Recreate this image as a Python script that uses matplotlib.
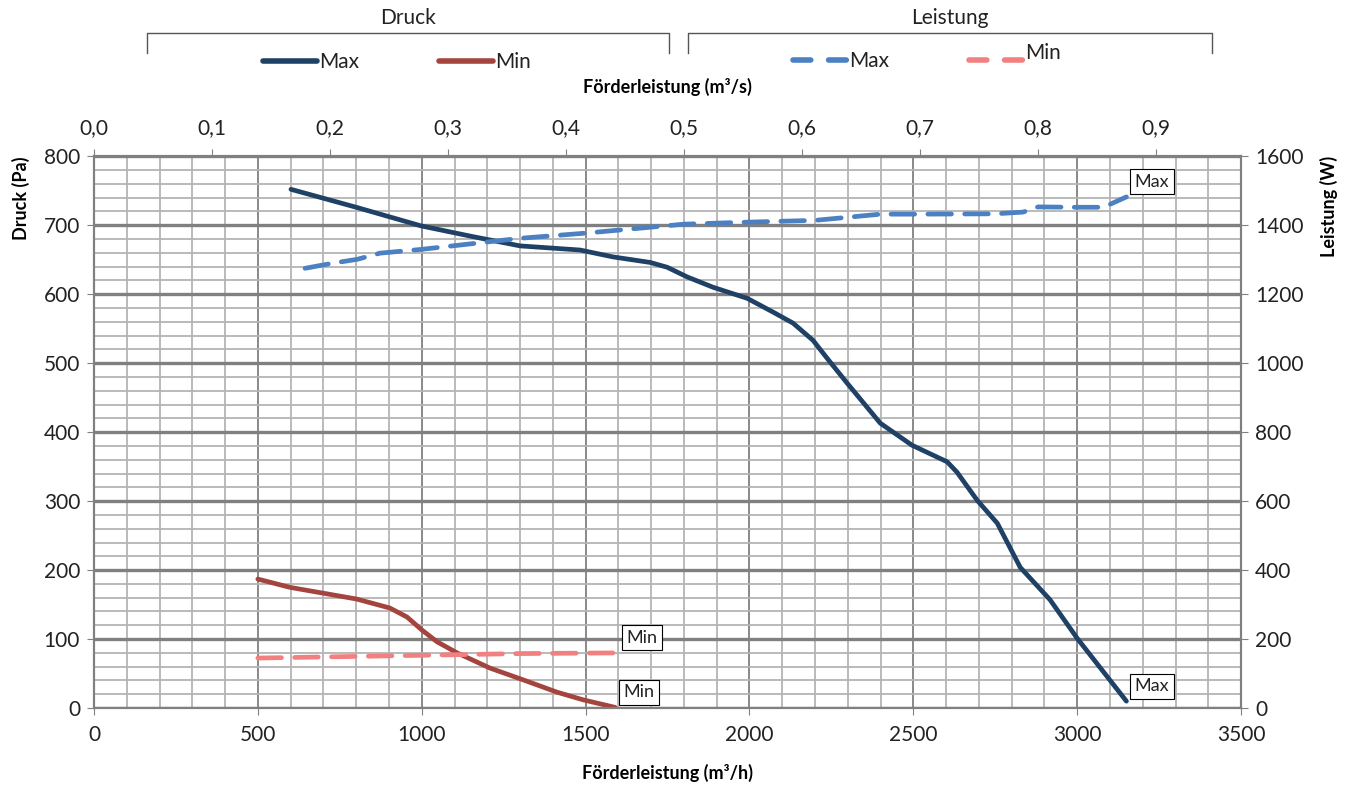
import matplotlib
matplotlib.use("Agg")
import matplotlib.pyplot as plt
from matplotlib.lines import Line2D
from matplotlib.ticker import MultipleLocator, FuncFormatter

plt.rcParams['font.family'] = ['Lato', 'DejaVu Sans']

# Druck Max (m3/h, Pa)
druck_max_x = [601, 800, 998, 1150, 1300, 1483, 1584, 1697, 1749, 1810, 1889, 1993,
               2072, 2133, 2194, 2237, 2298, 2399, 2496, 2603, 2633, 2695, 2756, 2826,
               2917, 3000, 3150]
druck_max_y = [752, 726, 699, 684, 670, 664, 654, 646, 639, 625, 610, 594,
               574, 558, 533, 507, 471, 413, 381, 357, 342, 301, 268, 204,
               157, 101, 10]
# Druck Min
druck_min_x = [500, 598, 802, 903, 955, 1001, 1047, 1108, 1208, 1309, 1413, 1492, 1590]
druck_min_y = [187, 175, 158, 145, 132, 113, 96, 80, 58, 41, 23, 12, 1]
# Leistung Max (m3/h, W)
leist_max_x = [644, 729, 803, 873, 1000, 1300, 1500, 1800, 2000, 2200, 2400, 2500,
               2750, 2835, 2880, 2994, 3080, 3150]
leist_max_y = [1275, 1290, 1301, 1319, 1330, 1362, 1377, 1403, 1409, 1414, 1432, 1432,
               1433, 1438, 1453, 1452, 1452, 1482]
# Leistung Min
leist_min_x = [500, 1000, 1300, 1600]
leist_min_y = [145, 153, 158, 160]

c_max = '#1F4166'
c_min = '#A4443F'
c_lmax = '#4B80C3'
c_lmin = '#F28080'

fig = plt.figure(figsize=(13.52, 7.85), dpi=100)
ax = fig.add_axes([0.0695, 0.098, 0.8485, 0.703])
ax2 = ax.twinx()

ax.set_xlim(0, 3500)
ax.set_ylim(0, 800)
ax2.set_ylim(0, 1600)

ax.xaxis.set_major_locator(MultipleLocator(500))
ax.xaxis.set_minor_locator(MultipleLocator(100))
ax.yaxis.set_major_locator(MultipleLocator(100))
ax.yaxis.set_minor_locator(MultipleLocator(20))
ax2.yaxis.set_major_locator(MultipleLocator(200))

ax.grid(which='minor', axis='both', color='#B4B4B4', lw=1.3)
ax.grid(which='major', axis='x', color='#808080', lw=1.3)
ax.grid(which='major', axis='y', color='#808080', lw=2.4)
ax.set_axisbelow(True)
ax.tick_params(which='minor', length=0)
ax.tick_params(axis='x', which='major', length=5, color='#808080', labelsize=15,
               labelcolor='#222222', pad=7)
ax.tick_params(axis='y', which='major', length=5, color='#808080', labelsize=15,
               labelcolor='#222222', pad=5)
ax2.tick_params(which='major', length=5, color='#808080', labelsize=15, labelcolor='#222222', pad=5)
for a in (ax, ax2):
    for s in a.spines.values():
        s.set_color('#808080')
        s.set_linewidth(1.5)

lkw = dict(lw=3.4, solid_capstyle='round', solid_joinstyle='round', zorder=3)
ax.plot(druck_max_x, druck_max_y, color=c_max, **lkw)
ax.plot(druck_min_x, druck_min_y, color=c_min, **lkw)
dkw = dict(lw=3.4, dashes=(5, 2.8), dash_capstyle='round', dash_joinstyle='round', zorder=3)
ax2.plot(leist_max_x, leist_max_y, color=c_lmax, **dkw)
ax2.plot(leist_min_x, leist_min_y, color=c_lmin, **dkw)

box = dict(boxstyle='square,pad=0.25', fc='white', ec='black', lw=0.8)
akw = dict(xytext=(6, 5), textcoords='offset points', fontsize=13, bbox=box,
           va='bottom', ha='left', color='#222222')
ax.annotate('Max', (druck_max_x[-1], druck_max_y[-1]), **akw)
ax.annotate('Min', (druck_min_x[-1], druck_min_y[-1]), **akw)
ax2.annotate('Max', (leist_max_x[-1], leist_max_y[-1]), **akw)
ax2.annotate('Min', (leist_min_x[-1], leist_min_y[-1]), **akw)

ax.set_xlabel('Förderleistung (m³/h)', fontsize=13, fontweight='bold', labelpad=14)
ax.set_ylabel('Druck (Pa)', fontsize=13, fontweight='bold', labelpad=10, loc='top')
ax2.set_ylabel('Leistung (W)', fontsize=13, fontweight='bold', labelpad=12, loc='top')

top = ax.secondary_xaxis('top', functions=(lambda x: x / 3600, lambda x: x * 3600))
top.xaxis.set_major_locator(MultipleLocator(0.1))
top.xaxis.set_major_formatter(FuncFormatter(lambda v, p: f'{v:.1f}'.replace('.', ',')))
top.tick_params(length=5, color='#808080', labelsize=15, labelcolor='#222222', pad=8)
top.spines['top'].set_visible(False)
top.set_xlabel('Förderleistung (m³/s)', fontsize=13, fontweight='bold', labelpad=18)

# legend groups with brackets
def bracket(x0, x1, y, title):
    fig.add_artist(Line2D([x0, x0, x1, x1], [y - 0.026, y, y, y - 0.026],
                          transform=fig.transFigure, color='#555555', lw=1))
    fig.text((x0 + x1) / 2, y + 0.006, title, ha='center', va='bottom', fontsize=15,
             color='#222222')

bracket(147 / 1352, 669 / 1352, 1 - 33 / 785, 'Druck')
bracket(688 / 1352, 1212 / 1352, 1 - 33 / 785, 'Leistung')

h1 = [Line2D([], [], color=c_max, lw=4, solid_capstyle='round'),
      Line2D([], [], color=c_min, lw=4, solid_capstyle='round')]
h2 = [Line2D([], [], color=c_lmax, lw=4, dashes=(3.2, 3.2), dash_capstyle='round'),
      Line2D([], [], color=c_lmin, lw=4, dashes=(3.2, 3.2), dash_capstyle='round')]
legkw = dict(ncol=2, frameon=False, fontsize=15, handlelength=2.6, handletextpad=0.1,
             columnspacing=3.8, loc='center', labelcolor='#222222')
fig.legend(h1, ['Max', 'Min'], bbox_to_anchor=(397 / 1352, 1 - 62 / 785), **legkw)
leg2 = fig.legend(h2, ['Max', 'Min'], bbox_to_anchor=(927 / 1352, 1 - 61 / 785), **legkw)
# the "Min" label sits a little higher in the original
leg2.get_texts()[1].set_y(8)

fig.savefig('out.png', dpi=100)
